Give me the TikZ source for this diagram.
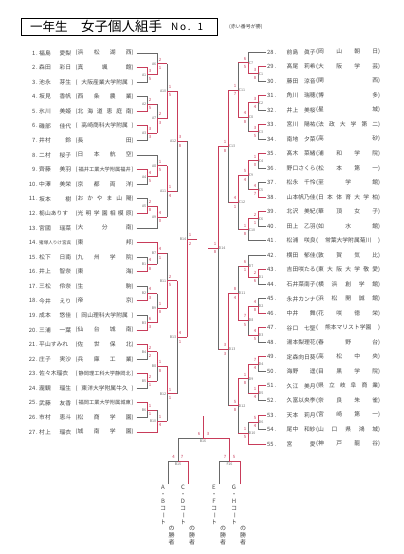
\documentclass[tikz,border=0pt]{standalone}
\usepackage{fontspec}
\setmainfont{Noto Sans CJK JP}
\usepackage{graphicx}
\usetikzlibrary{calc}
\definecolor{wred}{RGB}{200,60,90}
\definecolor{lgray}{RGB}{105,105,105}
\definecolor{txt}{RGB}{70,70,70}
\newcommand\nmL[1]{\makebox[32pt][s]{#1}}
\newcommand\nmLs[1]{\resizebox{32pt}{!}{#1}}
\newcommand\nmR[1]{\makebox[29pt][s]{#1}}
\newcommand\scL[1]{\makebox[58pt][s]{(#1)}}
\newcommand\scLn[1]{\makebox[58pt][s]{(\hfil#1\hfil)}}
\newcommand\scLl[1]{\makebox[58pt][s]{(\hfil\resizebox{52pt}{!}{#1}\hfil)}}
\newcommand\scR[1]{\makebox[64pt][s]{(#1)}}
\newcommand\scRn[1]{\makebox[64pt][s]{(\hfil#1\hfil)}}
\newcommand\lent[3]{%
  \pgfmathsetmacro\yy{53+(#1-1)*14.58}
  \node[etext,anchor=east] (n#1) at (38,\yy) {#1\,.};
  \node[etext,anchor=west] (m#1) at (39,\yy) {#2};
  \node[etext,anchor=west] (s#1) at (75.5,\yy) {#3};
  \coordinate (e#1) at (136.5,\yy);
}
\newcommand\rent[3]{%
  \pgfmathsetmacro\yy{52+(#1-28)*14.52}
  \node[etext,anchor=west] (n#1) at (267,\yy) {#1\,.};
  \node[etext,anchor=west] (m#1) at (286.5,\yy) {#2};
  \node[etext,anchor=west] (s#1) at (316,\yy) {#3};
  \coordinate (e#1) at (266,\yy);
}
\newcommand\mymatch[8]{%
  \path let \p1=(#3), \p2=(#4) in
    coordinate (#1-t) at (#2pt,\y1)
    coordinate (#1-b) at (#2pt,\y2)
    coordinate (#1-c) at (#2pt,{0.5*\y1+0.5*\y2})
    coordinate (#1) at ({#2pt+(#6pt)},{0.5*\y1+0.5*\y2});
  \ifnum#5=1
    \draw[lose] (#4) -- (#1-b) -- (#1-c);
    \draw[win] (#3) -- (#1-t) -- (#1-c) -- (#1);
  \else
    \draw[lose] (#3) -- (#1-t) -- (#1-c);
    \draw[win] (#4) -- (#1-b) -- (#1-c) -- (#1);
  \fi
  \ifdim#6pt>0pt
    \node[mlab,anchor=east] at ($(#1-c)+(-0.6,0)$) {#1};
    \node[score] at ($(#1-c)+(3,-4.2)$) {#7};
    \node[score] at ($(#1-c)+(3,4.2)$) {#8};
  \else
    \node[mlab,anchor=west] at ($(#1-c)+(0.6,0)$) {#1};
    \node[score] at ($(#1-c)+(-3,-4.2)$) {#7};
    \node[score] at ($(#1-c)+(-3,4.2)$) {#8};
  \fi
}
\begin{document}
\begin{tikzpicture}[x=1pt,y=-1pt,
  etext/.style={inner sep=0pt,text=txt,font=\fontsize{5.8}{7}\selectfont},
  mlab/.style={inner sep=0pt,text=lgray,font=\fontsize{3.6}{4}\selectfont},
  score/.style={inner sep=0pt,text=wred,font=\fontsize{4.3}{5}\selectfont},
  win/.style={draw=wred,line width=1pt},
  lose/.style={draw=lgray,line width=0.7pt},
  vtext/.style={inner sep=0pt,text=txt,align=center,font=\fontsize{6}{7}\selectfont}]
\fill[white] (0,0) rectangle (404,554);
\useasboundingbox (0,0) rectangle (404,554);
% title
\node[draw,line width=1pt,minimum width=196pt,minimum height=17pt,inner sep=0pt] (titlebox) at (119,26.5) {};
\node[inner sep=0pt,anchor=west,font=\fontsize{12.5}{13}\selectfont] (t1) at (30,26.5) {一年生};
\node[inner sep=0pt,anchor=west,font=\fontsize{13.5}{14}\selectfont] (t2) at (81,26.5) {女子個人組手};
\node[inner sep=0pt,anchor=west,font=\fontsize{10}{11}\selectfont] (t3) at (171,27) {N\,o\,.\hspace{7pt}1};
\node[inner sep=0pt,anchor=west,text=txt,font=\fontsize{5}{6}\selectfont] (note) at (229,27) {(赤い番号が勝)};
% left entries
\lent{1}{\nmL{福島 愛梨}}{\scL{浜 松 湖 西}}
\lent{2}{\nmL{森田 彩日}}{\scL{真 颯 館}}
\lent{3}{\nmL{池永 芽生}}{\scLn{大阪産業大学附属}}
\lent{4}{\nmL{坂見 香帆}}{\scL{西 条 農 業}}
\lent{5}{\nmL{氷川 美姫}}{\scL{北 海 道 恵 庭 南}}
\lent{6}{\nmL{磯部 佳代}}{\scLn{高崎商科大学附属}}
\lent{7}{\nmL{井村 鈴}}{\scL{長 田}}
\lent{8}{\nmL{二村 桜子}}{\scL{日 本 航 空}}
\lent{9}{\nmL{齊藤 美羽}}{\scLl{福井工業大学附属福井}}
\lent{10}{\nmL{中澤 美栄}}{\scL{京 都 両 洋}}
\lent{11}{\nmL{坂本 樹}}{\scL{お か や ま 山 陽}}
\lent{12}{\nmL{栃山ありす}}{\scL{光 明 学 園 相 模 原}}
\lent{13}{\nmL{宮國 瑶菜}}{\scL{大 分 南}}
\lent{14}{\nmLs{猪塚人りけ宮呉}}{\scL{東 邦}}
\lent{15}{\nmL{松下 日南}}{\scL{九 州 学 院}}
\lent{16}{\nmL{井上 智奈}}{\scL{東 海}}
\lent{17}{\nmL{三松 伶奈}}{\scL{生 駒}}
\lent{18}{\nmL{今井 えり}}{\scL{帝 京}}
\lent{19}{\nmL{成本 悠佳}}{\scLn{岡山理科大学附属}}
\lent{20}{\nmL{三浦 一葉}}{\scL{仙 台 城 南}}
\lent{21}{\nmL{平山すみれ}}{\scL{佐 世 保 北}}
\lent{22}{\nmL{庄子 実沙}}{\scL{兵 庫 工 業}}
\lent{23}{\nmL{佐々木瑠衣}}{\scLl{静岡理工科大学静岡北}}
\lent{24}{\nmL{瀧観 瑠生}}{\scLn{東洋大学附属牛久}}
\lent{25}{\nmL{武藤 友香}}{\scLl{福岡工業大学附属城東}}
\lent{26}{\nmL{市村 恵斗}}{\scL{松 商 学 園}}
\lent{27}{\nmL{村上 瑠衣}}{\scL{城 南 学 園}}
% right entries
\rent{28}{\nmR{前島 眞子}}{\scR{岡 山 朝 日}}
\rent{29}{\nmR{髙尾 莉希}}{\scR{大 阪 学 芸}}
\rent{30}{\nmR{藤田 涼音}}{\scR{関 西}}
\rent{31}{\nmR{角川 瑞穂}}{\scR{博 多}}
\rent{32}{\nmR{井上 美桜}}{\scR{星 城}}
\rent{33}{\nmR{宮川 陽祐}}{\scR{法 政 大 学 第 二}}
\rent{34}{\nmR{南地 夕菜}}{\scR{高 砂}}
\rent{35}{\nmR{髙木 菜緒}}{\scR{浦 和 学 院}}
\rent{36}{\nmR{野口さくら}}{\scR{松 本 第 一}}
\rent{37}{\nmR{松永 千怜}}{\scR{至 学 館}}
\rent{38}{\nmR{山本帆乃佳}}{\scR{日 本 体 育 大 学 柏}}
\rent{39}{\nmR{北沢 美紀}}{\scR{華 頂 女 子}}
\rent{40}{\nmR{田上 乙羽}}{\scR{如 水 館}}
\rent{41}{\nmR{松浦 咲良}}{\scRn{常葉大学附属菊川}}
\rent{42}{\nmR{横田 郁佳}}{\scR{敦 賀 気 比}}
\rent{43}{\nmR{吉田咲たる}}{\scR{東 大 阪 大 学 敬 愛}}
\rent{44}{\nmR{石井菜南子}}{\scR{横 浜 創 学 館}}
\rent{45}{\nmR{永井カンナ}}{\scR{浜 松 開 誠 館}}
\rent{46}{\nmR{中井 舞}}{\scR{花 咲 徳 栄}}
\rent{47}{\nmR{谷口 七聖}}{\scRn{熊本マリスト学園}}
\rent{48}{\nmR{湯本梨理花}}{\scR{春 野 台}}
\rent{49}{\nmR{定森向日葵}}{\scR{高 松 中 央}}
\rent{50}{\nmR{海野 遥}}{\scR{目 黒 学 院}}
\rent{51}{\nmR{久江 美月}}{\scR{県 立 岐 阜 商 業}}
\rent{52}{\nmR{久富以央李}}{\scR{奈 良 朱 雀}}
\rent{53}{\nmR{天本 莉月}}{\scR{宮 崎 第 一}}
\rent{54}{\nmR{尾中 和紗}}{\scR{山 口 県 鴻 城}}
\rent{55}{\nmR{宮 愛}}{\scR{神 戸 龍 谷}}
% left bracket
\mymatch{A1}{147}{e2}{e3}{1}{10}{3}{5}
\mymatch{A6}{157}{e1}{A1}{2}{10}{2}{1}
\mymatch{A2}{147}{e4}{e5}{2}{10}{2}{5}
\mymatch{A3}{147}{e6}{e7}{1}{10}{3}{3}
\mymatch{A7}{157}{A2}{A3}{2}{10}{2}{3}
\mymatch{A10}{167}{A6}{A7}{2}{10}{1}{5}
\mymatch{A4}{147}{e9}{e10}{1}{10}{4}{5}
\mymatch{A8}{157}{e8}{A4}{2}{10}{1}{5}
\mymatch{A5}{147}{e11}{e12}{2}{10}{2}{8}
\mymatch{A9}{157}{A5}{e13}{1}{10}{4}{0}
\mymatch{A11}{167}{A8}{A9}{1}{10}{1}{4}
\mymatch{A12}{177}{A10}{A11}{1}{10}{3}{8}
\mymatch{B1}{147}{e15}{e16}{2}{10}{4}{8}
\mymatch{B7}{157}{e14}{B1}{1}{10}{4}{1}
\mymatch{B2}{147}{e17}{e18}{2}{10}{4}{3}
\mymatch{B3}{147}{e19}{e20}{2}{10}{6}{3}
\mymatch{B9}{157}{B2}{B3}{2}{10}{1}{8}
\mymatch{B11}{167}{B7}{B9}{2}{10}{2}{5}
\mymatch{B4}{147}{e21}{e22}{1}{10}{2}{2}
\mymatch{B5}{147}{e23}{e24}{1}{10}{2}{1}
\mymatch{B8}{157}{B4}{B5}{1}{10}{1}{8}
\mymatch{B6}{147}{e25}{e26}{1}{10}{1}{1}
\mymatch{B10}{157}{B6}{e27}{2}{10}{1}{4}
\mymatch{B12}{167}{B8}{B10}{1}{10}{1}{1}
\mymatch{B13}{177}{B11}{B12}{1}{10}{4}{1}
\mymatch{B14}{187}{A12}{B13}{2}{10}{1}{2}
% right bracket
\mymatch{C1}{258}{e29}{e30}{1}{-10}{3}{8}
\mymatch{C7}{248}{e28}{C1}{2}{-10}{6}{5}
\mymatch{C2}{258}{e31}{e32}{1}{-10}{3}{4}
\mymatch{C3}{258}{e33}{e34}{1}{-10}{3}{5}
\mymatch{C8}{248}{C2}{C3}{1}{-10}{4}{8}
\mymatch{C11}{238}{C7}{C8}{2}{-10}{1}{7}
\mymatch{C4}{258}{e35}{e36}{1}{-10}{1}{0}
\mymatch{C5}{258}{e37}{e38}{2}{-10}{4}{7}
\mymatch{C9}{248}{C4}{C5}{1}{-10}{5}{4}
\mymatch{C6}{258}{e39}{e40}{1}{-10}{2}{1}
\mymatch{C10}{248}{C6}{e41}{1}{-10}{1}{8}
\mymatch{C12}{238}{C9}{C10}{1}{-10}{4}{1}
\mymatch{C13}{228}{C11}{C12}{1}{-10}{1}{8}
\mymatch{D1}{258}{e43}{e44}{1}{-10}{2}{6}
\mymatch{D7}{248}{e42}{D1}{2}{-10}{6}{1}
\mymatch{D2}{258}{e45}{e46}{2}{-10}{4}{8}
\mymatch{D3}{258}{e47}{e48}{1}{-10}{4}{5}
\mymatch{D8}{248}{D2}{D3}{1}{-10}{7}{5}
\mymatch{D11}{238}{D7}{D8}{2}{-10}{8}{4}
\mymatch{D4}{258}{e49}{e50}{1}{-10}{7}{4}
\mymatch{D5}{258}{e51}{e52}{1}{-10}{1}{4}
\mymatch{D9}{248}{D4}{D5}{1}{-10}{1}{8}
\mymatch{D6}{258}{e53}{e54}{1}{-10}{5}{4}
\mymatch{D10}{248}{D6}{e55}{2}{-10}{1}{5}
\mymatch{D12}{238}{D9}{D10}{1}{-10}{5}{8}
\mymatch{D13}{228}{D11}{D12}{1}{-10}{3}{3}
\mymatch{D14}{218}{C13}{D13}{1}{-10}{1}{8}
% final block
\coordinate (b15l) at (168,484); \coordinate (b15lt) at (168,461);
\coordinate (b15r) at (188,484); \coordinate (b15rt) at (188,461);
\coordinate (b15c) at (178,461); \coordinate (b16l) at (178,438);
\coordinate (b16c) at (203,438); \coordinate (b16top) at (203,416);
\coordinate (b16r) at (229.5,438); \coordinate (f16c) at (229.5,461);
\coordinate (f16l) at (219,484); \coordinate (f16lt) at (219,461);
\coordinate (f16r) at (240,484); \coordinate (f16rt) at (240,461);
\draw[lose] (b15l) -- (b15lt) -- (b15c) -- (b16l) -- (b16c);
\draw[lose] (f16l) -- (f16lt) -- (f16c);
\draw[win] (b15r) -- (b15rt) -- (b15c);
\draw[win] (f16r) -- (f16rt) -- (f16c) -- (b16r) -- (b16c) -- (b16top);
\node[mlab] (lb15) at (178,464.5) {B15};
\node[mlab] (lf16) at (229.5,464.5) {F16};
\node[mlab] (lb16) at (203,441.5) {B16};
\node[score] (s15a) at (173.5,457) {4}; \node[score] (s15b) at (182,457) {7};
\node[score] (s16a) at (225,457) {7}; \node[score] (s16b) at (234,457) {5};
\node[score] (s17a) at (199,433.5) {6}; \node[score] (s17b) at (208,433.5) {3};
% vertical texts
\node[vtext,anchor=north] (v1) at (163,484.5) {A\\・\\B\\コ\\\rotatebox[origin=c]{-90}{ー}\\ト};
\node[vtext,anchor=north] (w1) at (171.5,525.5) {の\\勝\\者};
\node[vtext,anchor=north] (v2) at (183,484.5) {C\\・\\D\\コ\\\rotatebox[origin=c]{-90}{ー}\\ト};
\node[vtext,anchor=north] (w2) at (192,525.5) {の\\勝\\者};
\node[vtext,anchor=north] (v3) at (214,484.5) {E\\・\\F\\コ\\\rotatebox[origin=c]{-90}{ー}\\ト};
\node[vtext,anchor=north] (w3) at (223,525.5) {の\\勝\\者};
\node[vtext,anchor=north] (v4) at (234,484.5) {G\\・\\H\\コ\\\rotatebox[origin=c]{-90}{ー}\\ト};
\node[vtext,anchor=north] (w4) at (243,525.5) {の\\勝\\者};
\end{tikzpicture}
\end{document}
